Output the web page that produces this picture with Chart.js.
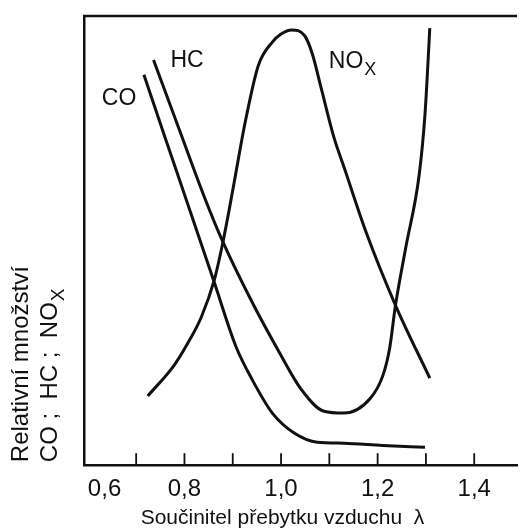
<!DOCTYPE html>
<html>
<head>
<meta charset="utf-8">
<script src="https://cdn.jsdelivr.net/npm/chart.js@4.4.1/dist/chart.umd.min.js"></script>
<style>
  html, body { margin: 0; padding: 0; background: #fff; }
  #wrap { width: 527px; height: 532px; }
</style>
</head>
<body>
<div id="wrap"><canvas id="graf"></canvas></div>
<script>
// --- DATA ---
const coLambda  = [0.716, 0.760, 0.805, 0.862, 0.907, 0.941, 0.982, 1.028, 1.075, 1.130, 1.210, 1.298];
const coValue   = [86.9, 72.9, 58.7, 40.6, 26.3, 18.9, 11.6, 7.1, 5.1, 4.9, 4.4, 4.0];

const hcLambda  = [0.736, 0.790, 0.842, 0.878, 0.941, 0.994, 1.043, 1.089, 1.130, 1.185, 1.211, 1.225, 1.237, 1.258, 1.286, 1.298, 1.304, 1.308];
const hcValue   = [90.2, 74.5, 59.5, 50.1, 36.1, 25.6, 16.7, 12.0, 11.6, 14.9, 20.0, 26.1, 35.6, 48.3, 64.6, 78.0, 89.1, 97.3];

const noxLambda = [0.724, 0.779, 0.805, 0.835, 0.862, 0.878, 0.892, 0.903, 0.927, 0.953, 0.982, 1.000, 1.022, 1.049, 1.065, 1.083, 1.110, 1.130, 1.176, 1.237, 1.308];
const noxValue  = [15.4, 22.3, 26.8, 33.0, 41.3, 48.8, 56.5, 63.0, 77.0, 89.0, 94.2, 96.0, 96.9, 95.6, 91.5, 84.0, 72.8, 66.5, 51.9, 35.6, 19.4];

const tickValues = [0.6, 0.8, 1.0, 1.2, 1.4];
const tickLabels = ['0,6', '0,8', '1,0', '1,2', '1,4'];
const tickMarks  = [0.7, 0.8, 0.9, 1.0, 1.1, 1.2, 1.3, 1.4];

const xMin = 0.592;
const xMax = 1.4886;

const ink = '#111';
const pismo = '"Liberation Sans", Arial, Helvetica, sans-serif';

function body(xs, ys) {
    return xs.map((x, i) => ({ x, y: ys[i] }));
}

function serie(label, xs, ys) {
    return {
        label,
        data: body(xs, ys),
        borderColor: ink,
        borderWidth: 3,
        pointRadius: 0,
        fill: false,
        cubicInterpolationMode: 'monotone'
    };
}

// Text s dolním indexem (NO + x)
function textSIndexem(ctx, zaklad, index, x, y, size) {
    ctx.font = size + 'px ' + pismo;
    ctx.fillText(zaklad, x, y);
    const w = ctx.measureText(zaklad).width;
    ctx.font = Math.round(size * 0.8) + 'px ' + pismo;
    ctx.fillText(index, x + w + 1, y + size * 0.3);
}

// --- POPISKY, HORNÍ RÁMEČEK, ZNAČKY OSY ---
const popisky = {
    id: 'popisky',
    afterDraw(chart) {
        const { ctx, chartArea, scales } = chart;
        const sx = scales.x, sy = scales.y;
        ctx.save();
        ctx.strokeStyle = ink;
        ctx.fillStyle = ink;

        // horní hrana rámečku
        ctx.lineWidth = 2.5;
        ctx.beginPath();
        ctx.moveTo(chartArea.left - 1, chartArea.top);
        ctx.lineTo(chartArea.right, chartArea.top);
        ctx.stroke();

        // značky dovnitř grafu
        ctx.lineWidth = 1.8;
        tickMarks.forEach(v => {
            const px = sx.getPixelForValue(v);
            ctx.beginPath();
            ctx.moveTo(px, chartArea.bottom);
            ctx.lineTo(px, chartArea.bottom - 12);
            ctx.stroke();
        });

        // názvy křivek
        ctx.textBaseline = 'alphabetic';
        ctx.textAlign = 'left';
        ctx.font = '23px ' + pismo;
        ctx.fillText('CO', sx.getPixelForValue(0.629), sy.getPixelForValue(80.2));
        ctx.fillText('HC', sx.getPixelForValue(0.771), sy.getPixelForValue(88.6));
        textSIndexem(ctx, 'NO', 'X', sx.getPixelForValue(1.099), sy.getPixelForValue(88.4), 23);

        // popis vodorovné osy
        ctx.textAlign = 'center';
        ctx.font = '21px ' + pismo;
        ctx.fillText('Součinitel přebytku vzduchu  λ', sx.getPixelForValue(1.003), chartArea.bottom + 59);

        // popis svislé osy (dva řádky, otočeno)
        ctx.textAlign = 'left';
        ctx.translate(0, chartArea.bottom - 3);
        ctx.rotate(-Math.PI / 2);
        ctx.font = '24px ' + pismo;
        ctx.fillText('Relativní množství', 0, 28);
        textSIndexem(ctx, 'CO ;  HC ;  NO', 'X', 0, 57, 24);
        ctx.restore();
    }
};

new Chart(document.getElementById('graf'), {
    type: 'line',
    data: {
        datasets: [
            serie('CO', coLambda, coValue),
            serie('HC', hcLambda, hcValue),
            serie('NOx', noxLambda, noxValue)
        ]
    },
    options: {
        responsive: true,
        maintainAspectRatio: false,
        animation: false,
        layout: { padding: { left: 84, top: 16, right: 0, bottom: 18 } },
        plugins: { legend: { display: false }, tooltip: { enabled: false } },
        scales: {
            x: {
                type: 'linear',
                min: xMin,
                max: xMax,
                grid: { display: false, drawTicks: false },
                border: { display: true, color: ink, width: 2.5 },
                // jen popsané hodnoty + neviditelná značka na konci osy
                afterBuildTicks: axis => {
                    axis.ticks = tickValues.map(v => ({ value: v })).concat([{ value: xMax }]);
                },
                ticks: {
                    autoSkip: false,
                    maxRotation: 0,
                    align: 'inner',
                    padding: 10,
                    color: ink,
                    font: { family: pismo, size: 24 },
                    callback: v => {
                        const i = tickValues.findIndex(t => Math.abs(t - v) < 1e-6);
                        return i >= 0 ? tickLabels[i] : '';
                    }
                }
            },
            y: {
                min: 0,
                max: 100,
                grid: { display: false, drawTicks: false },
                border: { display: true, color: ink, width: 2.5 },
                ticks: { display: false }
            }
        }
    },
    plugins: [popisky]
});
</script>
</body>
</html>
